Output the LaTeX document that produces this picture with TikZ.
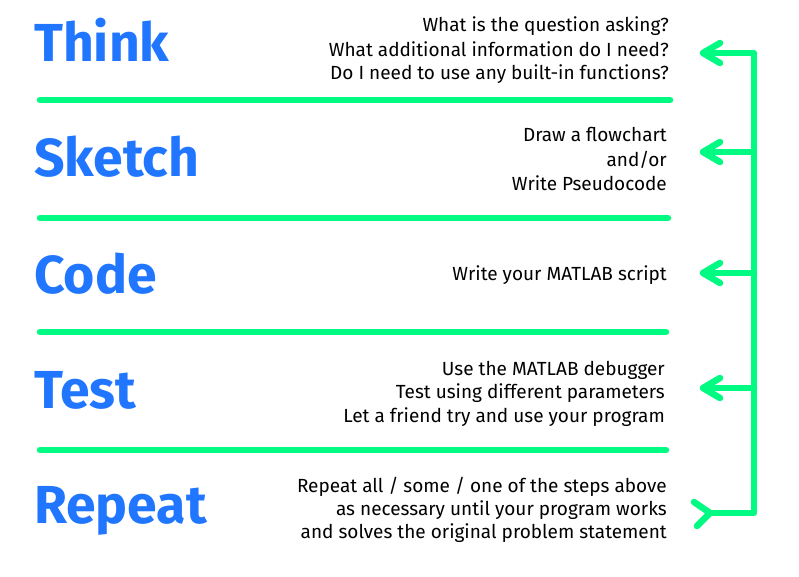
\documentclass[tikz,border=0pt]{standalone}
\usepackage{fontspec}
\setmainfont{Fira Sans}
\definecolor{grn}{RGB}{0,250,130}
\definecolor{blu}{RGB}{33,118,255}
\begin{document}
\begin{tikzpicture}[x=1pt,y=-1pt,
  title/.style={anchor=base west, inner sep=0, text=blu, font=\fontsize{53.5}{60}\selectfont\bfseries},
  desc/.style={anchor=base east, inner sep=0, font=\fontsize{19}{24}\selectfont},
  sepline/.style={draw=grn, line width=6.5pt, line cap=round},
  conn/.style={draw=grn, line width=6.5pt, line cap=round, line join=round}]
\useasboundingbox (0,0) rectangle (799,577);

% titles
\node[title] (think)  at (34,62)  {Think};
\node[title] (sketch) at (34,177) {Sketch};
\node[title] (code)   at (34,293) {Code};
\node[title] (test)   at (34,408) {Test};
\node[title] (repeat) at (34,523) {Repeat};

% separators
\draw[sepline] (40,100) -- (670,100);
\draw[sepline] (40,218) -- (668,218);
\draw[sepline] (40,332) -- (666,332);
\draw[sepline] (40,450) -- (666,450);

% descriptions
\node[desc] (d1a) at (669,32) {What is the question asking?};
\node[desc] (d1b) at (669,57) {What additional information do I need?};
\node[desc] (d1c) at (669,80) {Do I need to use any built-in functions?};
\node[desc] (d2a) at (667,142) {Draw a flowchart};
\node[desc] (d2b) at (667,167) {and/or};
\node[desc] (d2c) at (667,190) {Write Pseudocode};
\node[desc] (d3a) at (667,280) {Write your MATLAB script};
\node[desc] (d4a) at (665,375) {Use the MATLAB debugger};
\node[desc] (d4b) at (665,398) {Test using different parameters};
\node[desc] (d4c) at (665,422) {Let a friend try and use your program};
\node[desc] (d5a) at (667,492) {Repeat all / some / one of the steps above};
\node[desc] (d5b) at (667,515) {as necessary until your program works};
\node[desc] (d5c) at (667,538) {and solves the original problem statement};

% loop connector
\coordinate (a1) at (703,53);
\coordinate (a2) at (703,152);
\coordinate (a3) at (703,273);
\coordinate (a4) at (703,388);
\coordinate (tr) at (754,53);
\coordinate (b2) at (754,152);
\coordinate (b3) at (754,273);
\coordinate (b4) at (754,388);
\coordinate (br) at (754,513);
\coordinate (tl) at (710,513);

\draw[conn] (a1) -- (tr) -- (br) -- (tl);
\draw[conn] (b2) -- (a2);
\draw[conn] (b3) -- (a3);
\draw[conn] (b4) -- (a4);
\foreach \p in {a1,a2,a3,a4}
  \draw[conn] ([shift={(17,-10)}]\p) -- (\p) -- ([shift={(17,10)}]\p);
\draw[conn] ([shift={(-16,-11)}]tl) -- (tl) -- ([shift={(-13,13)}]tl);
\end{tikzpicture}
\end{document}
